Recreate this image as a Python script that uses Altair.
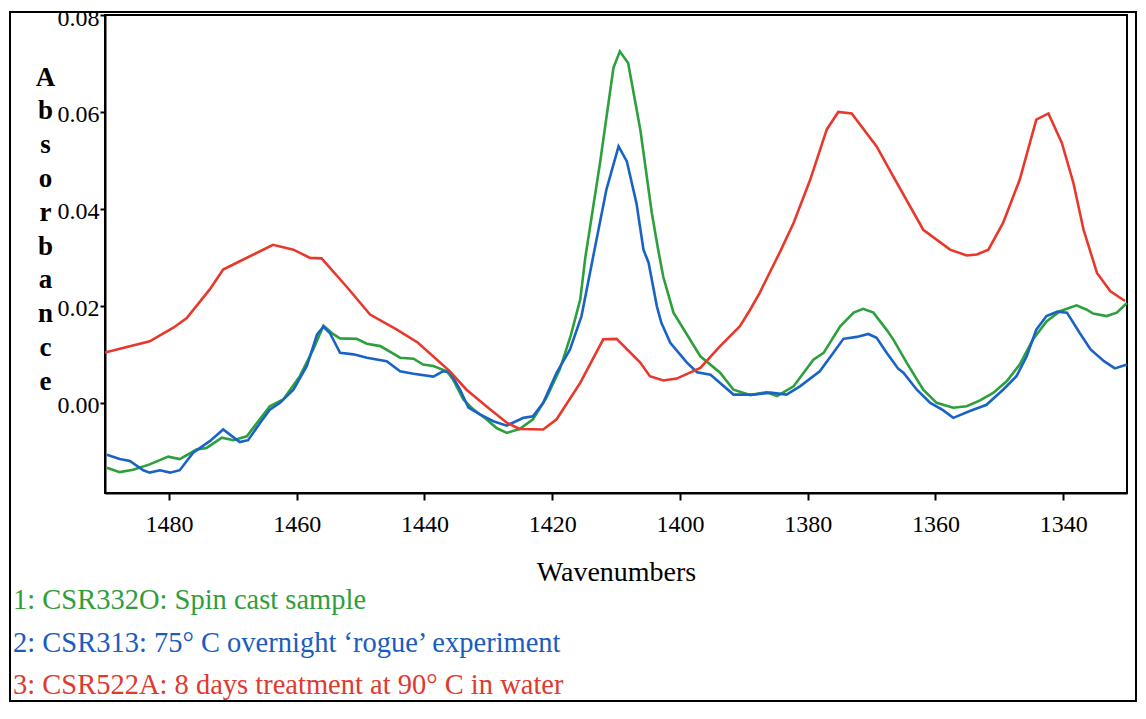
import altair as alt
import pandas as pd

# ---- data ----
series_names = ["1: CSR332O", "2: CSR313", "3: CSR522A"]
legend_labels = [
    "1: CSR332O: Spin cast sample",
    "2: CSR313: 75\u00b0 C overnight \u2018rogue\u2019 experiment",
    "3: CSR522A: 8 days treatment at 90\u00b0 C in water",
]
line_colors = ["#2ba03b", "#1a63c6", "#e8382c"]
text_colors = ["#2f9e3a", "#1a5cc0", "#e0392e"]

x_ticks = [1480, 1460, 1440, 1420, 1400, 1380, 1360, 1340]
y_ticks = [0.00, 0.02, 0.04, 0.06, 0.08]

green_wn = [1489.7, 1487.7, 1485.6, 1483.0, 1480.1, 1478.3, 1475.6, 1474.1, 1471.7, 1469.9,
            1467.8, 1464.2, 1462.1, 1459.5, 1457.4, 1455.8, 1454.2, 1453.2, 1450.6, 1449.0,
            1446.9, 1443.8, 1441.7, 1440.2, 1438.6, 1436.5, 1435.5, 1433.9, 1432.3, 1430.3,
            1428.7, 1427.1, 1425.1, 1423.0, 1420.9, 1418.8, 1417.1, 1415.6, 1414.8, 1412.5,
            1410.4, 1409.4, 1408.1, 1406.2, 1404.4, 1403.4, 1402.6, 1401.0, 1398.9, 1396.8,
            1393.7, 1391.6, 1389.0, 1386.4, 1384.8, 1382.2, 1379.1, 1377.5, 1374.9, 1372.8,
            1371.3, 1369.7, 1367.6, 1366.6, 1364.5, 1361.9, 1359.8, 1357.2, 1355.1, 1353.0,
            1350.9, 1348.8, 1346.8, 1344.7, 1342.6, 1340.5, 1337.9, 1336.3, 1335.3, 1333.2,
            1331.6, 1330.0]
green_abs = [-0.0134, -0.0143, -0.0138, -0.0127, -0.0111, -0.0116, -0.0096, -0.0093, -0.0072, -0.0077,
             -0.0069, -0.0007, 0.0007, 0.0055, 0.0110, 0.0159, 0.0141, 0.0133, 0.0132, 0.0122,
             0.0117, 0.0093, 0.0091, 0.0079, 0.0076, 0.0065, 0.0048, 0.0007, -0.0014, -0.0034,
             -0.0052, -0.0062, -0.0054, -0.0034, 0.0010, 0.0069, 0.0138, 0.0213, 0.0300, 0.0495,
             0.0691, 0.0725, 0.0701, 0.0564, 0.0392, 0.0316, 0.0260, 0.0186, 0.0141, 0.0096,
             0.0062, 0.0027, 0.0016, 0.0022, 0.0014, 0.0034, 0.0089, 0.0103, 0.0158, 0.0186,
             0.0194, 0.0186, 0.0150, 0.0131, 0.0083, 0.0027, 0.0000, -0.0010, -0.0007, 0.0005,
             0.0021, 0.0045, 0.0079, 0.0131, 0.0168, 0.0189, 0.0201, 0.0192, 0.0184, 0.0179,
             0.0186, 0.0206]

blue_wn = [1489.7, 1487.7, 1486.1, 1484.0, 1483.0, 1481.4, 1479.8, 1478.3, 1476.2, 1473.6,
           1471.5, 1468.9, 1467.6, 1465.7, 1464.2, 1462.6, 1460.5, 1458.4, 1456.8, 1455.8,
           1454.8, 1453.2, 1451.1, 1449.0, 1445.9, 1443.8, 1441.7, 1438.6, 1437.1, 1436.0,
           1434.4, 1433.1, 1431.3, 1429.2, 1427.1, 1424.5, 1423.0, 1421.4, 1419.3, 1417.2,
           1415.4, 1413.6, 1411.5, 1409.6, 1408.3, 1406.8, 1405.7, 1404.9, 1403.6, 1402.9,
           1401.5, 1398.9, 1397.3, 1395.2, 1393.7, 1391.6, 1388.5, 1385.8, 1383.3, 1381.2,
           1378.1, 1376.0, 1374.4, 1372.3, 1370.5, 1369.2, 1367.6, 1365.8, 1365.0, 1362.9,
           1360.8, 1358.8, 1357.2, 1354.6, 1352.0, 1349.4, 1347.3, 1345.7, 1344.2, 1342.6,
           1340.9, 1339.4, 1337.4, 1335.7, 1333.6, 1331.9, 1330.0]
blue_abs = [-0.0107, -0.0116, -0.0120, -0.0139, -0.0144, -0.0139, -0.0144, -0.0139, -0.0103, -0.0079,
            -0.0055, -0.0081, -0.0077, -0.0041, -0.0014, 0.0000, 0.0027, 0.0076, 0.0141, 0.0157,
            0.0144, 0.0103, 0.0100, 0.0093, 0.0086, 0.0065, 0.0060, 0.0054, 0.0065, 0.0063,
            0.0027, -0.0010, -0.0024, -0.0038, -0.0047, -0.0031, -0.0028, 0.0000, 0.0062, 0.0110,
            0.0179, 0.0300, 0.0440, 0.0529, 0.0498, 0.0412, 0.0316, 0.0289, 0.0199, 0.0165,
            0.0124, 0.0083, 0.0063, 0.0058, 0.0041, 0.0017, 0.0017, 0.0021, 0.0017, 0.0034,
            0.0065, 0.0103, 0.0132, 0.0136, 0.0142, 0.0134, 0.0103, 0.0070, 0.0062, 0.0027,
            0.0000, -0.0015, -0.0031, -0.0017, -0.0004, 0.0027, 0.0055, 0.0096, 0.0151, 0.0179,
            0.0188, 0.0186, 0.0144, 0.0110, 0.0086, 0.0071, 0.0079]

red_wn = [1490.0, 1483.0, 1479.3, 1477.2, 1473.6, 1471.5, 1468.9, 1463.7, 1460.5, 1457.9,
          1456.1, 1452.2, 1448.5, 1444.3, 1441.0, 1436.0, 1433.4, 1430.3, 1427.1, 1425.1,
          1421.4, 1419.3, 1415.6, 1412.0, 1409.9, 1406.2, 1404.7, 1402.6, 1400.5, 1396.8,
          1393.7, 1390.6, 1389.0, 1387.5, 1384.3, 1382.2, 1379.6, 1377.0, 1375.2, 1373.1,
          1369.2, 1366.6, 1361.9, 1357.7, 1355.1, 1353.5, 1351.7, 1349.4, 1346.8, 1344.2,
          1342.3, 1340.2, 1338.4, 1336.8, 1334.7, 1332.6, 1330.3]
red_abs = [0.0104, 0.0127, 0.0155, 0.0175, 0.0234, 0.0275, 0.0292, 0.0326, 0.0316, 0.0299,
           0.0298, 0.0240, 0.0182, 0.0151, 0.0124, 0.0065, 0.0027, -0.0007, -0.0041, -0.0054,
           -0.0055, -0.0034, 0.0041, 0.0131, 0.0132, 0.0083, 0.0055, 0.0046, 0.0050, 0.0072,
           0.0117, 0.0158, 0.0192, 0.0227, 0.0312, 0.0371, 0.0460, 0.0564, 0.0600, 0.0597,
           0.0529, 0.0467, 0.0357, 0.0316, 0.0304, 0.0306, 0.0316, 0.0371, 0.0460, 0.0584,
           0.0597, 0.0536, 0.0454, 0.0357, 0.0268, 0.0230, 0.0210]

# ---- build table ----
rows = []
for name, wn, ab in zip(series_names, [green_wn, blue_wn, red_wn], [green_abs, blue_abs, red_abs]):
    for w, a in zip(wn, ab):
        rows.append({"series": name, "wn": w, "abs": a})
df = pd.DataFrame(rows)

FONT = "Liberation Serif"

x_axis = alt.Axis(
    values=x_ticks, format="d", grid=False,
    labelFont=FONT, labelFontSize=24, labelColor="black", labelPadding=12,
    tickColor="black", tickSize=7, tickWidth=2,
    domainColor="black", domainWidth=2,
    title="Wavenumbers", titleFont=FONT, titleFontSize=28, titleFontWeight="normal",
    titleColor="black", titleY=87, titleBaseline="alphabetic",
)
y_axis = alt.Axis(
    values=y_ticks, format=".2f", grid=False,
    labelFont=FONT, labelFontSize=24, labelColor="black", labelPadding=1, labelOffset=3,
    tickColor="black", tickSize=5, tickWidth=2,
    domainColor="black", domainWidth=2,
    title=list("Absorbance"), titleFont=FONT, titleFontSize=27, titleFontWeight="bold",
    titleColor="black", titleAngle=0, titleAlign="center", titleBaseline="alphabetic",
    titleX=-60, titleY=70, titleLineHeight=33.8,
)

lines = alt.Chart(df).mark_line(strokeWidth=2.6, interpolate="linear").encode(
    x=alt.X("wn:Q", scale=alt.Scale(domain=[1330, 1490], reverse=True, nice=False, zero=False), axis=x_axis),
    y=alt.Y("abs:Q", scale=alt.Scale(domain=[-0.0186, 0.08], nice=False, zero=False), axis=y_axis),
    color=alt.Color("series:N", scale=alt.Scale(domain=series_names, range=line_colors), legend=None),
    order=alt.Order("wn:Q"),
)

one = pd.DataFrame({"k": [0]})
frame = alt.Chart(one).mark_rect(fillOpacity=0, stroke="black", strokeWidth=2).encode(
    x=alt.value(-95), x2=alt.value(1031), y=alt.value(-3), y2=alt.value(686)
)

legend_layers = []
for lab, col, yy in zip(legend_labels, text_colors, [594, 637, 679]):
    legend_layers.append(
        alt.Chart(pd.DataFrame({"t": [lab]})).mark_text(
            align="left", baseline="alphabetic", font=FONT, fontSize=28.5, color=col
        ).encode(x=alt.value(-92), y=alt.value(yy), text="t:N")
    )

chart = alt.layer(lines, frame, *legend_layers).properties(
    width=1022, height=478,
    autosize=alt.AutoSizeParams(type="none"),
    padding={"left": 97, "top": 7, "right": 11, "bottom": 210},
).configure_view(stroke="black", strokeWidth=2)

chart.save("out.html", embed_options={"renderer": "svg", "actions": False})
